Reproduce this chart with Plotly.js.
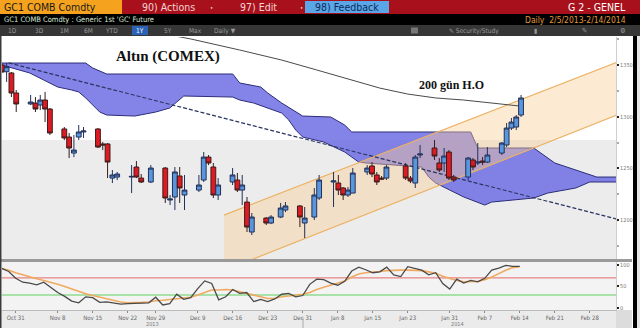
<!DOCTYPE html>
<html>
<head>
<meta charset="utf-8">
<script src="https://cdn.plot.ly/plotly-3.0.1.min.js"></script>
<style>
html,body{margin:0;padding:0;background:#fff;overflow:hidden}
#chart{width:640px;height:328px}
</style>
</head>
<body>
<div id="chart"></div>
<script>
// ---- Daily GC1 sessions ----
const dates = ['2013-10-29','2013-10-30','2013-10-31','2013-11-01','2013-11-04','2013-11-05','2013-11-06','2013-11-07','2013-11-08','2013-11-11',
  '2013-11-12','2013-11-13','2013-11-14','2013-11-15','2013-11-18','2013-11-19','2013-11-20','2013-11-21','2013-11-22','2013-11-25',
  '2013-11-26','2013-11-27','2013-11-29','2013-12-02','2013-12-03','2013-12-04','2013-12-05','2013-12-06','2013-12-09','2013-12-10',
  '2013-12-11','2013-12-12','2013-12-13','2013-12-16','2013-12-17','2013-12-18','2013-12-19','2013-12-20','2013-12-23','2013-12-24',
  '2013-12-26','2013-12-27','2013-12-30','2013-12-31','2014-01-02','2014-01-03','2014-01-06','2014-01-07','2014-01-08','2014-01-09',
  '2014-01-10','2014-01-13','2014-01-14','2014-01-15','2014-01-16','2014-01-17','2014-01-21','2014-01-22','2014-01-23','2014-01-24',
  '2014-01-27','2014-01-28','2014-01-29','2014-01-30','2014-01-31','2014-02-03','2014-02-04','2014-02-05','2014-02-06','2014-02-07',
  '2014-02-10','2014-02-11','2014-02-12','2014-02-13','2014-02-14'];

const open = [1350.0,1343.5,1342.3,1322.9,1312.3,1313.2,1311.3,1316.1,1307.4,1288.1,
  1280.3,1264.8,1280.3,1285.2,1288.1,1273.6,1273.6,1240.6,1241.6,1241.6,
  1251.3,1240.6,1236.8,1250.3,1219.4,1222.3,1242.6,1224.2,1229.0,1238.7,
  1260.9,1251.3,1224.2,1236.8,1238.7,1229.0,1217.4,1188.4,1201.9,1197.1,
  1202.9,1209.7,1213.6,1197.1,1202.9,1221.3,1236.8,1235.8,1231.0,1224.2,
  1226.1,1246.5,1252.3,1243.6,1240.6,1240.6,1252.3,1240.6,1235.8,1262.9,
  1269.7,1255.2,1255.2,1265.8,1241.6,1241.6,1258.1,1255.2,1257.1,1256.1,
  1264.8,1272.6,1289.0,1290.0,1301.6];
const high = [1352.0,1352.0,1343.2,1325.8,1321.0,1319.0,1321.0,1324.0,1308.4,1290.0,
  1284.2,1282.3,1291.9,1290.0,1289.0,1275.5,1274.5,1248.4,1246.5,1253.2,
  1257.1,1244.5,1253.2,1251.3,1224.2,1251.3,1251.3,1243.6,1243.6,1265.8,
  1262.9,1255.2,1240.6,1250.3,1245.5,1243.6,1222.3,1206.8,1202.9,1204.8,
  1216.5,1217.4,1214.5,1212.6,1231.0,1243.6,1246.5,1243.6,1231.9,1231.9,
  1250.3,1253.2,1256.1,1246.5,1242.6,1253.2,1255.2,1242.6,1262.9,1272.6,
  1277.4,1260.0,1269.7,1267.7,1243.6,1260.9,1260.0,1274.5,1260.9,1270.6,
  1275.5,1293.9,1298.7,1301.6,1321.0];
const low = [1342.3,1333.6,1319.0,1304.5,1311.3,1304.5,1306.4,1294.8,1282.3,1277.4,
  1260.0,1260.9,1277.4,1279.4,1269.7,1267.7,1240.6,1235.8,1238.7,1226.1,
  1240.6,1235.8,1235.8,1216.5,1214.5,1209.7,1216.5,1209.7,1227.1,1236.8,
  1253.2,1221.3,1219.4,1233.9,1227.1,1214.5,1188.4,1185.5,1195.2,1196.1,
  1201.9,1207.7,1193.2,1182.6,1200.0,1219.4,1212.6,1224.2,1219.4,1222.3,
  1226.1,1243.6,1241.6,1233.9,1238.7,1238.7,1238.7,1235.8,1231.0,1260.0,
  1258.1,1246.5,1246.5,1238.7,1236.8,1238.7,1248.4,1253.2,1253.2,1255.2,
  1262.9,1270.6,1287.1,1287.1,1299.7];
const close = [1343.2,1348.4,1322.9,1312.3,1314.2,1307.4,1316.1,1307.4,1284.2,1279.4,
  1269.7,1267.7,1285.2,1286.1,1270.6,1272.6,1256.1,1243.6,1244.5,1242.2,
  1241.6,1236.8,1250.3,1221.3,1220.3,1246.5,1231.0,1229.0,1233.9,1260.9,
  1255.2,1224.2,1233.9,1243.6,1229.0,1233.9,1193.2,1202.9,1197.1,1202.9,
  1211.6,1213.6,1202.9,1201.9,1224.2,1238.7,1237.8,1229.0,1224.2,1229.0,
  1245.5,1250.3,1244.5,1236.8,1239.7,1251.3,1240.6,1237.8,1260.9,1263.9,
  1261.9,1248.4,1261.9,1240.6,1238.7,1260.0,1251.3,1256.1,1256.1,1262.9,
  1274.5,1289.0,1294.8,1299.7,1318.1];

// ---- Oscillator (lower panel) and its signal line ----
const osc = [92,85,69,60,58,54,60,48,36,27, 16,12,26,24,13,14,11,9,10,11,
  12,12,25,7,10,32,20,24,45,63, 57,19,26,43,34,36,15,20,15,21,
  32,34,26,29,55,67,66,58,53,62, 86,95,89,82,84,95,77,73,96,92,
  88,77,82,57,44,67,58,64,61,69, 88,93,99,97,97];
const oscSignal = [92,88,82,77,72,68,64,60,55,50, 44,38,33,29,25,22,18,14,12,12,
  13,14,17,18,20,22,23,25,30,36, 42,42,43,42,38,34,30,26,22,22,
  26,28,30,32,36,43,48,53,58,63, 72,79,82,83,85,87,88,88,88,87,
  87,84,81,74,69,64,61,61,62,66, 72,80,88,94,96];

// ---- Ichimoku cloud edges (projected past the last session) ----
const cloudTopDates = ['2013-10-29','2013-11-14','2013-11-15','2013-11-19','2013-12-16','2013-12-17','2013-12-20','2013-12-23','2013-12-26','2013-12-30',
  '2013-12-31','2014-01-07','2014-01-09','2014-01-10','2014-02-05','2014-02-06','2014-02-18','2014-02-21','2014-02-26','2014-03-03','2014-03-06'];
const cloudTop = [1351.9,1351.9,1347.1,1341.3,1341.3,1332.6,1328.7,1322.9,1313.2,1304.5,
  1300.6,1299.7,1291.9,1285.2,1285.2,1269.7,1269.7,1255.2,1248.4,1241.6,1241.6];
const cloudBottomDates = ['2013-10-29','2013-11-04','2013-11-06','2013-11-08','2013-11-12','2013-11-13','2013-11-14','2013-11-15','2013-11-18','2013-11-19',
  '2013-11-25','2013-11-29','2013-12-03','2013-12-04','2013-12-05','2013-12-16','2013-12-17','2013-12-19','2013-12-23','2013-12-26',
  '2013-12-27','2013-12-30','2013-12-31','2014-01-06','2014-01-09','2014-01-13','2014-01-14','2014-01-27','2014-01-28','2014-01-29',
  '2014-01-31','2014-02-04','2014-02-07','2014-02-10','2014-02-18','2014-02-20','2014-02-26','2014-02-28','2014-03-06'];
const cloudBottom = [1350.0,1342.3,1335.5,1328.7,1325.8,1323.9,1318.1,1311.3,1304.5,1301.6,
  1300.6,1304.5,1308.4,1314.2,1320.0,1319.0,1316.1,1313.2,1308.4,1303.5,
  1296.8,1287.1,1280.3,1275.5,1265.8,1256.1,1255.2,1251.3,1241.6,1235.8,
  1229.0,1222.3,1214.5,1217.4,1221.3,1226.1,1231.0,1236.8,1236.8];

// ---- 200-day moving average ----
const maDates = ['2013-11-22','2013-12-06','2013-12-17','2013-12-26','2014-01-03','2014-01-10','2014-01-16','2014-01-23','2014-01-29','2014-02-04','2014-02-10','2014-02-14'];
const maValues = [1386.8,1375.2,1364.5,1354.8,1345.2,1335.5,1327.7,1321.9,1318.1,1316.1,1313.2,1310.3];

// ---- Drawn falling trend line and rising channel ----
const trendDates = ['2013-10-30','2014-03-06'];
const trendValues = [1352.0,1200.7];
const channelDates = ['2013-12-12 18:00','2014-03-06'];
const channelUpper = [1204.8,1353.0];
const channelLower = [1151.1,1302.0];

// ---- Axis ticks ----
const priceTicks = [1200,1250,1300,1350];
const oscTicks = [0,50,100];
const tickDates = ['2013-10-31','2013-11-08','2013-11-15','2013-11-22','2013-11-29','2013-12-09','2013-12-16','2013-12-23','2013-12-31',
  '2014-01-08','2014-01-15','2014-01-23','2014-01-31','2014-02-07','2014-02-14','2014-02-21','2014-02-28'];
const tickLabels = ['Oct 31','Nov 8','Nov 15','Nov 22','Nov 29','Dec 9','Dec 16','Dec 23','Dec 31',
  'Jan 8','Jan 15','Jan 23','Jan 31','Feb 7','Feb 14','Feb 21','Feb 28'];
const holidays = ['2013-11-28','2013-12-25','2014-01-01','2014-01-20'];

// ---- helpers: pixel -> paper coordinates ----
const W = 640, H = 328;
const fx = x => x / W;
const fy = y => 1 - y / H;

const oscHi = osc.map((v, i) => Math.max(v, oscSignal[i]));
const oscLo = osc.map((v, i) => Math.min(v, oscSignal[i]));

const NAVY = '#2c2c78';
const traces = [
  // cloud
  {x: cloudTopDates, y: cloudTop, type: 'scatter', mode: 'lines', line: {color: NAVY, width: 1}, hoverinfo: 'skip'},
  {x: cloudBottomDates, y: cloudBottom, type: 'scatter', mode: 'lines', line: {color: NAVY, width: 1},
   fill: 'tonexty', fillcolor: 'rgba(110,110,228,0.85)', hoverinfo: 'skip'},
  // channel body and edges
  {x: [channelDates[0], channelDates[1], channelDates[1], channelDates[0]],
   y: [channelUpper[0], channelUpper[1], channelLower[1], channelLower[0]],
   type: 'scatter', mode: 'none', fill: 'toself', fillcolor: 'rgba(250,205,150,0.42)', hoverinfo: 'skip'},
  {x: channelDates, y: channelUpper, type: 'scatter', mode: 'lines', line: {color: 'rgb(236,178,100)', width: 1.2}, hoverinfo: 'skip'},
  {x: channelDates, y: channelLower, type: 'scatter', mode: 'lines', line: {color: 'rgb(236,178,100)', width: 1.2}, hoverinfo: 'skip'},
  // trend line
  {x: trendDates, y: trendValues, type: 'scatter', mode: 'lines', line: {color: '#2a3560', width: 1.2, dash: '4px,2px'}, hoverinfo: 'skip'},
  // 200-day MA
  {x: maDates, y: maValues, type: 'scatter', mode: 'lines', line: {color: '#4a4a4a', width: 1}, hoverinfo: 'skip'},
  // candles, on an overlaid pair of axes so they sit above the cloud and channel
  {x: dates, open: open, high: high, low: low, close: close, type: 'candlestick', xaxis: 'x3', yaxis: 'y3',
   increasing: {line: {color: '#22315a', width: 1}, fillcolor: '#5a96dc'},
   decreasing: {line: {color: '#3a1c1c', width: 1}, fillcolor: '#e01a22'},
   hoverinfo: 'skip'},
  // oscillator fills
  {x: dates, y: oscSignal, xaxis: 'x2', yaxis: 'y2', type: 'scatter', mode: 'none', hoverinfo: 'skip'},
  {x: dates, y: oscHi, xaxis: 'x2', yaxis: 'y2', type: 'scatter', mode: 'none', fill: 'tonexty', fillcolor: 'rgba(185,185,185,0.75)', hoverinfo: 'skip'},
  {x: dates, y: oscSignal, xaxis: 'x2', yaxis: 'y2', type: 'scatter', mode: 'none', hoverinfo: 'skip'},
  {x: dates, y: oscLo, xaxis: 'x2', yaxis: 'y2', type: 'scatter', mode: 'none', fill: 'tonexty', fillcolor: 'rgba(242,130,95,0.7)', hoverinfo: 'skip'},
  {x: dates, y: oscSignal, xaxis: 'x2', yaxis: 'y2', type: 'scatter', mode: 'lines', line: {color: '#f0aa60', width: 1.6}, hoverinfo: 'skip'},
  {x: dates, y: osc, xaxis: 'x2', yaxis: 'y2', type: 'scatter', mode: 'lines', line: {color: '#4a4a4a', width: 1.3}, hoverinfo: 'skip'}
];

const breaks = [{bounds: ['sat', 'mon']}, {values: holidays}];
const xRange = ['2013-10-29 01:00', '2014-03-05 18:00'];
const priceRange = [1162.3, 1377.1];
const tickFont = {family: 'Liberation Sans Narrow, DejaVu Sans Condensed, Arial, sans-serif', size: 5.5, color: '#777'};

const rect = (x0, y0, x1, y1, color, layer) => ({type: 'rect', xref: 'paper', yref: 'paper',
  x0: fx(x0), x1: fx(x1), y0: fy(y1), y1: fy(y0), fillcolor: color, line: {width: 0}, layer: layer || 'below'});

const shapes = [
  // header bars
  rect(0, 0, 640, 14, '#a8111b', 'above'),
  rect(0, 0, 122, 14, '#f5a21f', 'above'),
  rect(305, 1, 389, 13, '#5aa6e6', 'above'),
  rect(0, 14, 640, 25, '#000', 'above'),
  rect(0, 25, 640, 36, '#363636', 'above'),
  rect(132, 26, 148, 35, '#2b62b5', 'above'),
  rect(411, 27.5, 418, 33.5, '#777', 'above'),
  // chart backgrounds
  rect(2, 140, 616, 259, '#ececec'),
  rect(2, 262, 616, 310, '#f3f3f3'),
  rect(0, 310, 632, 328, '#ebebeb'),
  rect(616, 310, 632, 328, '#dcdcdc'),
  rect(0, 259, 632, 262, '#9a9a9a', 'above'),
  rect(0, 36, 1.5, 328, '#3a3a3a', 'above'),
  rect(633, 36, 637, 328, '#000', 'above'),
  rect(637, 36, 640, 328, '#e6e6e6', 'above'),
  // oscillator bands
  {type: 'line', xref: 'paper', yref: 'y2', x0: fx(2), x1: fx(616), y0: 70, y1: 70, line: {color: '#e46a6a', width: 1}, layer: 'below'},
  {type: 'line', xref: 'paper', yref: 'y2', x0: fx(2), x1: fx(616), y0: 30, y1: 30, line: {color: '#8fdc8f', width: 1.5}, layer: 'below'},
  // year divider
  {type: 'line', xref: 'paper', yref: 'paper', x0: fx(303), x1: fx(303), y0: fy(328), y1: fy(318), line: {color: '#aaa', width: 1}}
];

const hdrFont = (size, color) => ({family: 'Liberation Sans Narrow, DejaVu Sans Condensed, Arial Narrow, sans-serif', size: size, color: color});
const ann = (text, x, y, font, xanchor) => ({text: text, x: fx(x), y: fy(y), xref: 'paper', yref: 'paper',
  xanchor: xanchor || 'center', yanchor: 'middle', showarrow: false, font: font});

const annotations = [
  ann('GC1 COMB Comdty', 2, 7.5, hdrFont(10.5, '#1a1a1a'), 'left'),
  ann('90) Actions', 168, 7.5, hdrFont(10.5, '#f4d4d4')),
  ann('•', 211, 7.5, hdrFont(6, '#f4d4d4')),
  ann('97) Edit', 258, 7.5, hdrFont(10.5, '#f4d4d4')),
  ann('•', 301, 7.5, hdrFont(6, '#f4d4d4')),
  ann('98) Feedback', 347, 7.5, hdrFont(10.5, '#0d2a5c')),
  ann('G 2 - GENEL', 628, 7.5, hdrFont(10.5, '#ffffff'), 'right'),
  ann("GC1 COMB Comdty : Generic 1st 'GC' Future", 2, 19.5, hdrFont(7.5, '#d4e6d8'), 'left'),
  ann('Daily&nbsp;&nbsp;2/5/2013-2/14/2014', 628, 19.5, hdrFont(8.5, '#e09a3a'), 'right'),
  ann('1D', 12, 30.5, hdrFont(6.5, '#9a9a9a')),
  ann('3D', 39, 30.5, hdrFont(6.5, '#9a9a9a')),
  ann('1M', 64, 30.5, hdrFont(6.5, '#9a9a9a')),
  ann('6M', 88, 30.5, hdrFont(6.5, '#9a9a9a')),
  ann('YTD', 111, 30.5, hdrFont(6.5, '#9a9a9a')),
  ann('1Y', 140, 30.5, hdrFont(6.5, '#ffffff')),
  ann('5Y', 168, 30.5, hdrFont(6.5, '#9a9a9a')),
  ann('Max', 195, 30.5, hdrFont(6.5, '#9a9a9a')),
  ann('Daily ▼', 225, 30.5, hdrFont(6.5, '#9a9a9a')),
  ann('✎ Security/Study', 474, 30.5, hdrFont(6.5, '#9a9a9a')),
  ann('▮', 535, 30.5, hdrFont(6.5, '#9a9a9a')),
  ann('✎', 584, 30.5, hdrFont(7, '#9a9a9a')),
  ann('⚙', 623, 30.5, hdrFont(7, '#9a9a9a')),
  // chart labels
  ann('<b>Altın (COMEX)</b>', 168, 56, {family: 'Liberation Serif, DejaVu Serif, serif', size: 15, color: '#111'}),
  ann('<b>200 gün H.O</b>', 451, 85, {family: 'Liberation Serif, DejaVu Serif, serif', size: 12, color: '#111'}),
  ann('2013', 152, 323.5, {family: 'Liberation Sans Narrow, DejaVu Sans Condensed, sans-serif', size: 5.5, color: '#777'}),
  ann('2014', 457, 323.5, {family: 'Liberation Sans Narrow, DejaVu Sans Condensed, sans-serif', size: 5.5, color: '#777'})
];

const layout = {
  width: W, height: H,
  margin: {l: 0, r: 0, t: 0, b: 0},
  paper_bgcolor: '#ffffff', plot_bgcolor: 'rgba(0,0,0,0)',
  showlegend: false, hovermode: false,
  boxgap: 0, boxgroupgap: 0,
  xaxis: {domain: [fx(2), fx(616)], anchor: 'y', type: 'date', range: xRange, rangebreaks: breaks,
    showticklabels: false, showgrid: false, zeroline: false, ticks: '', rangeslider: {visible: false}},
  yaxis: {domain: [fy(259), fy(37)], anchor: 'x', range: priceRange, side: 'right',
    tickvals: priceTicks, ticks: 'outside', ticklen: 2, tickwidth: 2, tickcolor: '#222',
    minor: {ticks: 'outside', ticklen: 2, tickcolor: '#aaa', dtick: 25},
    tickfont: tickFont, showgrid: false, zeroline: false, showline: true, linecolor: '#cfcfcf', linewidth: 1},
  xaxis3: {overlaying: 'x', anchor: 'y3', type: 'date', range: xRange, rangebreaks: breaks, visible: false,
    showgrid: false, zeroline: false, rangeslider: {visible: false}},
  yaxis3: {overlaying: 'y', anchor: 'x3', range: priceRange, visible: false, showgrid: false, zeroline: false},
  xaxis2: {domain: [fx(2), fx(616)], anchor: 'y2', type: 'date', matches: 'x', rangebreaks: breaks,
    tickvals: tickDates, ticktext: tickLabels, ticks: 'outside', ticklen: 2, tickcolor: '#888',
    tickfont: {family: 'Liberation Sans Narrow, DejaVu Sans Condensed, sans-serif', size: 6, color: '#666'},
    showgrid: false, zeroline: false, showline: true, linecolor: '#bbb', linewidth: 1},
  yaxis2: {domain: [fy(310), fy(262)], anchor: 'x2', range: [-4.7, 107], side: 'right',
    tickvals: oscTicks, ticks: 'outside', ticklen: 2, tickwidth: 2, tickcolor: '#222',
    tickfont: tickFont, showgrid: false, zeroline: false, showline: true, linecolor: '#cfcfcf', linewidth: 1},
  shapes: shapes,
  annotations: annotations
};

Plotly.newPlot('chart', traces, layout, {staticPlot: true, displayModeBar: false});
</script>
</body>
</html>
